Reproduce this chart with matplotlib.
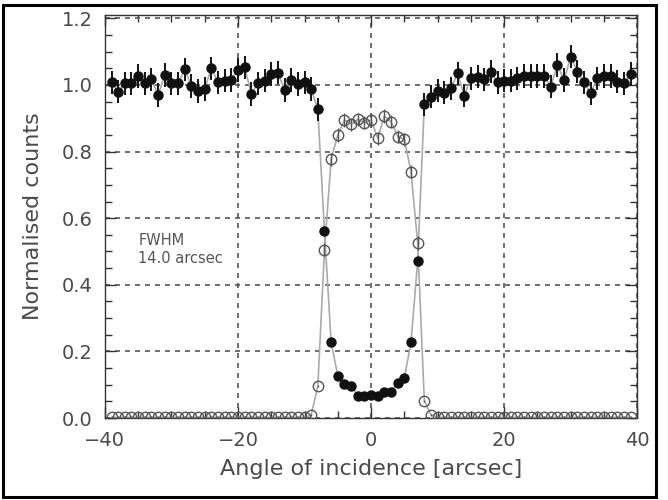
import numpy as np
import matplotlib
matplotlib.use("Agg")
import matplotlib.pyplot as plt
from matplotlib.ticker import MultipleLocator
from matplotlib.patches import Rectangle

plt.rcParams['font.family'] = ['DejaVu Sans']

# angle of incidence [arcsec]
angles = list(range(-39, 40))

# filled circles: normalised counts
filled_left = [1.008, 0.98, 1.005, 1.005, 1.027, 1.005, 1.017, 0.97, 1.03, 1.005,
               1.005, 1.047, 0.997, 0.982, 0.988, 1.05, 1.008, 1.013, 1.015, 1.045,
               1.053, 0.973, 1.005, 1.013, 1.033, 1.037, 0.985, 1.015, 1.003, 1.008,
               0.988, 0.927]
filled_mid = [0.56, 0.227, 0.127, 0.102, 0.097, 0.067, 0.067, 0.069, 0.067, 0.077,
              0.079, 0.104, 0.121, 0.227, 0.472]
filled_right = [0.942, 0.965, 0.983, 0.977, 0.99, 1.035, 0.968, 1.02, 1.025, 1.017,
                1.04, 1.008, 1.013, 1.013, 1.02, 1.027, 1.027, 1.027, 1.027, 0.995,
                1.06, 1.015, 1.085, 1.04, 1.008, 0.975, 1.02, 1.027, 1.027, 1.01,
                1.005, 1.033]
filled_vals = filled_left + filled_mid + filled_right
filled_err = [0.035] * 32 + [0.012] * 15 + [0.035] * 32

# open circles: normalised counts
open_left = [0.002] * 30 + [0.009, 0.096]
open_mid = [0.505, 0.777, 0.85, 0.895, 0.882, 0.897, 0.887, 0.895, 0.84, 0.907,
            0.89, 0.845, 0.837, 0.74, 0.525]
open_right = [0.052, 0.01] + [0.002] * 30
open_vals = open_left + open_mid + open_right
open_err = [0.003] * 32 + [0.02] * 15 + [0.003] * 32

xticks = [-40, -20, 0, 20, 40]
yticks = [0.0, 0.2, 0.4, 0.6, 0.8, 1.0, 1.2]

fig = plt.figure(figsize=(6.68, 5.0), dpi=100)
ax = fig.add_axes([0.157, 0.164, 0.797, 0.806])

txtc = '#4a4a4a'

ax.plot(angles, filled_vals, color='#aaaaaa', lw=1.2, zorder=2)
ax.plot(angles, open_vals, color='#aaaaaa', lw=1.2, zorder=2)
ax.errorbar(angles, filled_vals, yerr=filled_err, fmt='o', color='#111111',
            ms=6.5, elinewidth=1.4, capsize=0, zorder=4)
ax.errorbar(angles, open_vals, yerr=open_err, fmt='o', mfc='none', mec='#555555',
            ecolor='#555555', ms=7.5, mew=1.0, elinewidth=1.0, capsize=0, zorder=3)

ax.set_xlim(-40, 40)
ax.set_ylim(0, 1.21)
ax.set_xticks(xticks)
ax.set_yticks(yticks)
ax.set_xticklabels([f"\u2212{abs(v)}" if v < 0 else f"{v}" for v in xticks])
ax.set_yticklabels([f"{v:.1f}" for v in yticks])
ax.xaxis.set_minor_locator(MultipleLocator(5))
ax.yaxis.set_minor_locator(MultipleLocator(0.05))
ax.tick_params(which='both', direction='in', top=True, right=True,
               colors='#333333', labelcolor=txtc, labelsize=14)
ax.tick_params(which='major', length=8, width=1, pad=9)
ax.tick_params(which='minor', length=5, width=1)
ax.grid(True, which='major', linestyle=(0, (3, 3)), color='#555555', lw=1.2)
for s in ax.spines.values():
    s.set_color('#333333')
    s.set_linewidth(1.0)

ax.set_xlabel('Angle of incidence [arcsec]', fontsize=16, color=txtc, labelpad=7)
ax.set_ylabel('Normalised counts', fontsize=16, color=txtc, labelpad=13)

ax.text(-35, 0.555, 'FWHM\n14.0 arcsec', fontsize=10.5, color='#555555',
        va='top', ha='left', linespacing=1.25)

fig.patches.append(Rectangle((0.005, 0.006), 0.977, 0.984, transform=fig.transFigure,
                             fill=False, ec='black', lw=2.2))

fig.savefig('out.png', dpi=100)
